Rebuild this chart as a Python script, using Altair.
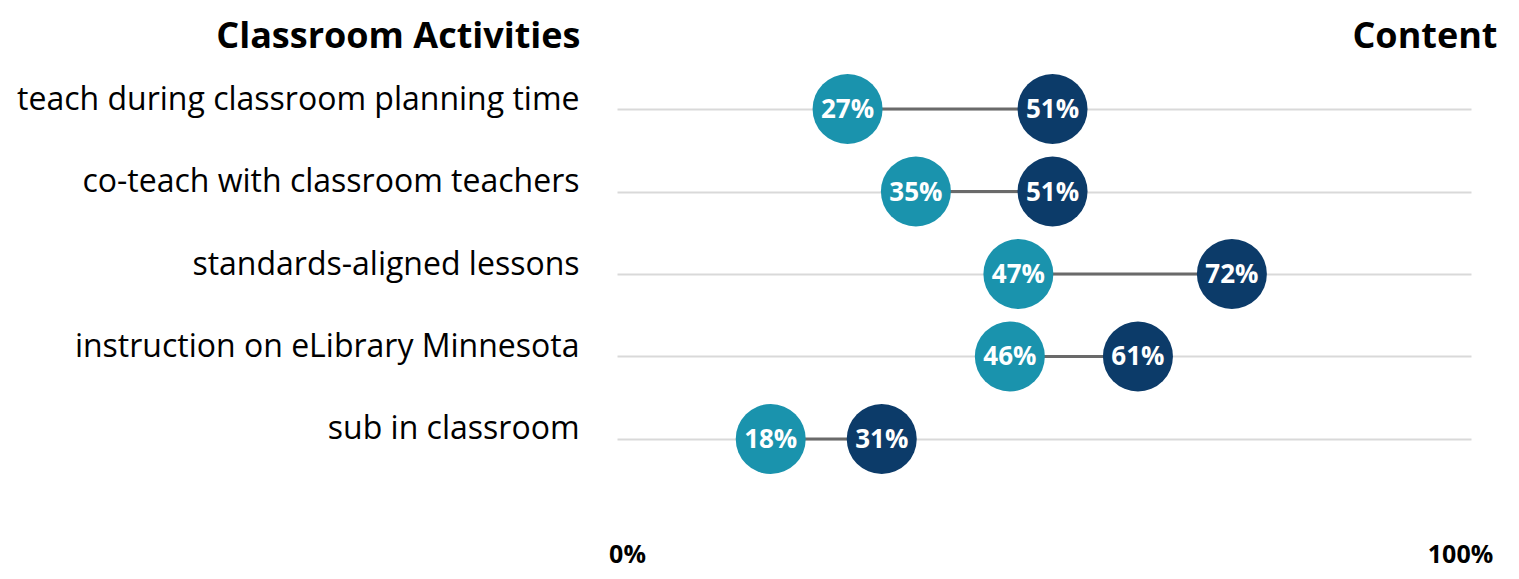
import altair as alt
import pandas as pd

categories = [
    "teach during classroom planning time",
    "co-teach with classroom teachers",
    "standards-aligned lessons",
    "instruction on eLibrary Minnesota",
    "sub in classroom",
]
classroom = [27, 35, 47, 46, 18]
content = [51, 51, 72, 61, 31]
series = ["Classroom Activities", "Content"]
colors = ["#1a93ad", "#0c3b69"]
axis_ticks = [0, 100]

rows = []
for c, a, b in zip(categories, classroom, content):
    rows.append({"activity": c, "series": series[0], "pct": a})
    rows.append({"activity": c, "series": series[1], "pct": b})
df = pd.DataFrame(rows)
df["label"] = df["pct"].astype(str) + "%"

FONT = "Open Sans"
xscale = alt.Scale(domain=[0, 100])
yscale = alt.Scale(type="point", padding=0.594)

yaxis = alt.Axis(
    title=series[0], titleAngle=0, titleAlign="right", titleBaseline="alphabetic",
    titleX=-37, titleY=-13, titleFont=FONT, titleFontSize=36, titleFontWeight="bold",
    titleColor="black",
    labelFont=FONT, labelFontSize=32, labelColor="black", labelLimit=1000,
    labelPadding=38, labelBaseline="alphabetic", labelOffset=0,
    ticks=False, domain=False, grid=True, gridColor="#d9d9d9", gridWidth=2,
)
yenc = alt.Y("activity:N", sort=categories, scale=yscale, axis=yaxis)

bottom_axis = alt.Axis(
    values=axis_ticks, labelExpr="datum.value + '%'", orient="bottom", title=None,
    ticks=False, domain=False, grid=False, labelFlush=False,
    labelFont=FONT, labelFontSize=25, labelFontWeight="bold", labelColor="black",
    labelBaseline="middle", labelAlign="center", labelPadding=66,
    labelOffset={"condition": {"test": "datum.value === 0", "value": 10}, "value": -11},
)

top_axis = alt.Axis(
    orient="top", title=series[1], labels=False, ticks=False, domain=False, grid=False,
    titleX=880, titleY=-13, titleAlign="right", titleBaseline="alphabetic", titleAngle=0,
    titleFont=FONT, titleFontSize=36, titleFontWeight="bold", titleColor="black",
)

base = alt.Chart(df)

rules = base.mark_rule(color="#6a6a6a", strokeWidth=3).encode(
    x=alt.X("min(pct):Q", scale=xscale, axis=bottom_axis),
    x2="max(pct):Q",
    y=yenc,
)

circles = base.mark_circle(size=4900, opacity=1).encode(
    x=alt.X("pct:Q", scale=xscale, axis=top_axis),
    y=yenc,
    color=alt.Color("series:N", scale=alt.Scale(domain=series, range=colors), legend=None),
)

texts = base.mark_text(
    font=FONT, fontSize=26, fontWeight="bold", color="white",
    baseline="middle", align="center", dy=1,
).encode(
    x=alt.X("pct:Q", scale=xscale, axis=None),
    y=yenc,
    text="label:N",
)

chart = (
    alt.layer(rules, circles, texts)
    .resolve_axis(x="independent")
    .properties(
        width=854, height=428,
        autosize=alt.AutoSizeParams(type="none"),
        padding={"left": 609, "top": 52, "right": 40, "bottom": 83},
    )
    .configure_view(stroke=None)
)

chart.save("out.html", embed_options={"renderer": "svg", "actions": False})
